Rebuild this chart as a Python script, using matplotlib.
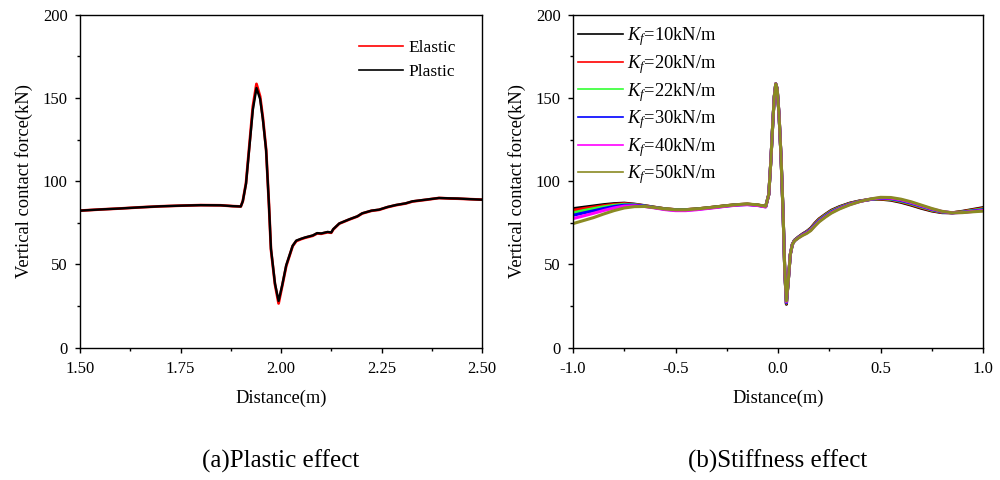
import matplotlib
matplotlib.use("Agg")
import matplotlib.pyplot as plt
from matplotlib.ticker import MultipleLocator, FormatStrFormatter

plt.rcParams['font.family'] = ['Liberation Serif', 'DejaVu Serif']
plt.rcParams['mathtext.fontset'] = 'custom'
plt.rcParams['mathtext.rm'] = 'Liberation Serif'
plt.rcParams['mathtext.it'] = 'Liberation Serif:italic'

# ---------------- (a) Plastic effect ----------------
dist_a = [1.50, 1.55, 1.60, 1.65, 1.70, 1.75, 1.80, 1.85, 1.88, 1.90,
          1.905, 1.913, 1.92, 1.93, 1.939, 1.948, 1.955, 1.963, 1.97, 1.975,
          1.985, 1.994, 2.003, 2.013, 2.029, 2.038, 2.05, 2.06, 2.079, 2.09,
          2.10, 2.116, 2.125, 2.13, 2.145, 2.17, 2.19, 2.202, 2.225, 2.244,
          2.265, 2.286, 2.31, 2.327, 2.36, 2.393, 2.42, 2.44, 2.47, 2.50]
elastic = [82.3, 83.0, 83.6, 84.3, 84.9, 85.3, 85.6, 85.5, 85.0, 84.8,
           88.0, 99.0, 118.0, 145.0, 158.5, 151.0, 138.0, 119.0, 86.0, 59.0,
           38.0, 26.5, 37.0, 49.0, 61.0, 64.0, 65.2, 66.0, 67.2, 68.6,
           68.4, 69.3, 69.0, 71.0, 74.5, 77.0, 78.8, 80.6, 82.2, 82.8,
           84.4, 85.6, 86.6, 87.8, 88.8, 89.9, 89.6, 89.5, 89.2, 88.9]
plastic = [82.3, 83.0, 83.6, 84.3, 84.9, 85.3, 85.6, 85.5, 85.0, 84.8,
           88.0, 98.5, 117.0, 143.0, 156.0, 149.5, 137.0, 118.5, 86.0, 59.5,
           38.5, 28.0, 37.5, 49.5, 61.2, 64.3, 65.4, 66.2, 67.4, 68.8,
           68.6, 69.5, 69.2, 71.2, 74.6, 77.1, 78.9, 80.7, 82.3, 82.9,
           84.5, 85.7, 86.7, 87.9, 88.9, 89.9, 89.7, 89.6, 89.2, 88.9]

# ---------------- (b) Stiffness effect ----------------
dist_b = [-1.00, -0.95, -0.90, -0.85, -0.80, -0.75, -0.70, -0.65, -0.60, -0.55,
          -0.50, -0.45, -0.40, -0.35, -0.30, -0.25, -0.20, -0.15, -0.10, -0.06,
          -0.045, -0.035, -0.025, -0.018, -0.011, -0.004, 0.005, 0.015, 0.025, 0.033,
          0.041, 0.050, 0.060, 0.070, 0.080, 0.100, 0.120, 0.140, 0.160, 0.180,
          0.200, 0.230, 0.260, 0.300, 0.350, 0.400, 0.450, 0.500, 0.550, 0.600,
          0.650, 0.700, 0.750, 0.800, 0.850, 0.900, 0.950, 1.000]
kf10 = [83.5, 84.3, 85.1, 85.9, 86.5, 86.8, 86.2, 85.3, 84.3, 83.4,
        82.9, 82.9, 83.3, 83.9, 84.6, 85.3, 85.9, 86.2, 85.7, 84.8,
        92.0, 112.0, 136.0, 151.0, 158.5, 155.5, 140.0, 114.0, 80.0, 46.0,
        26.0, 40.0, 56.0, 62.0, 64.5, 66.5, 68.3, 69.8, 71.8, 74.8,
        77.3, 80.0, 82.5, 84.7, 86.8, 88.2, 89.0, 89.2, 88.6, 87.3,
        85.6, 83.7, 82.1, 81.1, 81.0, 81.9, 83.0, 84.1]
kf20 = [82.5, 83.5, 84.4, 85.3, 86.0, 86.5, 86.0, 85.2, 84.3, 83.4,
        82.9, 82.9, 83.3, 83.9, 84.6, 85.3, 85.9, 86.2, 85.7, 84.8,
        92.0, 112.0, 136.0, 151.0, 158.5, 155.5, 140.0, 114.0, 80.0, 46.0,
        26.5, 40.0, 56.0, 62.0, 64.4, 66.4, 68.1, 69.6, 71.5, 74.5,
        77.0, 79.7, 82.2, 84.4, 86.6, 88.1, 89.0, 89.4, 88.9, 87.7,
        86.0, 84.1, 82.4, 81.3, 81.0, 81.7, 82.7, 83.7]
kf22 = [81.0, 82.3, 83.5, 84.6, 85.5, 86.1, 85.8, 85.1, 84.2, 83.3,
        82.8, 82.8, 83.2, 83.8, 84.5, 85.2, 85.8, 86.1, 85.6, 84.7,
        92.0, 112.0, 136.0, 151.0, 158.5, 155.5, 140.0, 114.0, 80.0, 46.0,
        26.8, 40.0, 56.0, 62.0, 64.3, 66.3, 67.9, 69.4, 71.2, 74.1,
        76.6, 79.4, 81.9, 84.2, 86.4, 88.0, 89.0, 89.6, 89.2, 88.0,
        86.4, 84.5, 82.7, 81.5, 81.0, 81.5, 82.4, 83.3]
kf30 = [79.5, 80.9, 82.2, 83.6, 84.8, 85.6, 85.6, 85.0, 84.1, 83.1,
        82.6, 82.6, 83.1, 83.7, 84.4, 85.1, 85.7, 86.0, 85.5, 84.6,
        92.0, 112.0, 136.0, 151.0, 158.5, 155.5, 140.0, 114.0, 80.0, 46.0,
        27.0, 40.0, 56.0, 62.0, 64.2, 66.2, 67.8, 69.2, 70.9, 73.7,
        76.2, 79.0, 81.5, 83.9, 86.2, 87.9, 89.1, 89.8, 89.5, 88.4,
        86.8, 84.9, 83.0, 81.6, 81.0, 81.3, 82.1, 82.8]
kf40 = [77.5, 79.1, 80.7, 82.4, 83.9, 85.0, 85.2, 84.8, 83.9, 82.9,
        82.3, 82.3, 82.8, 83.5, 84.2, 85.0, 85.6, 85.9, 85.4, 84.5,
        92.0, 112.0, 136.0, 151.0, 158.5, 155.5, 140.0, 114.0, 80.0, 46.0,
        27.5, 40.0, 56.0, 62.0, 64.1, 66.0, 67.6, 68.9, 70.6, 73.3,
        75.8, 78.6, 81.1, 83.6, 86.0, 87.8, 89.2, 90.0, 89.8, 88.8,
        87.2, 85.2, 83.3, 81.8, 81.0, 81.2, 81.8, 82.4]
kf50 = [74.5, 76.3, 78.1, 80.3, 82.3, 83.9, 84.7, 84.8, 84.1, 83.3,
        82.8, 82.8, 83.3, 83.9, 84.6, 85.3, 85.9, 86.3, 85.8, 84.9,
        92.0, 112.0, 136.0, 151.0, 158.5, 155.5, 140.0, 114.0, 80.0, 46.0,
        28.0, 40.0, 56.0, 62.0, 64.0, 65.9, 67.4, 68.6, 70.3, 73.0,
        75.5, 78.3, 80.8, 83.3, 85.8, 87.8, 89.3, 90.3, 90.2, 89.2,
        87.6, 85.6, 83.6, 81.9, 81.0, 81.1, 81.6, 82.0]

series_b = [kf10, kf20, kf22, kf30, kf40, kf50]
labels_b = ['$K_f$=10kN/m', '$K_f$=20kN/m', '$K_f$=22kN/m',
            '$K_f$=30kN/m', '$K_f$=40kN/m', '$K_f$=50kN/m']
colors_b = ['#000000', '#ff0000', '#33ff33', '#0000ff', '#ff00ff', '#8a8a23']

fig = plt.figure(figsize=(10, 4.8), dpi=100)
ax1 = fig.add_axes([0.080, 0.276, 0.402, 0.693])
ax2 = fig.add_axes([0.573, 0.276, 0.410, 0.693])


def style(ax):
    ax.set_ylim(0, 200)
    ax.yaxis.set_major_locator(MultipleLocator(50))
    ax.yaxis.set_minor_locator(MultipleLocator(25))
    ax.tick_params(which='both', direction='out', top=False, right=False,
                   labelsize=12, width=1)
    ax.tick_params(which='major', length=3.8)
    ax.tick_params(which='minor', length=2.2)
    ax.tick_params(axis='x', which='major', pad=6)
    ax.tick_params(axis='y', which='major', pad=5)
    for s in ax.spines.values():
        s.set_linewidth(1.0)
    ax.set_xlabel('Distance(m)', fontsize=13.3, labelpad=9)
    ax.set_ylabel('Vertical contact force(kN)', fontsize=13.3, labelpad=7)


ax1.plot(dist_a, elastic, color='#ff0000', lw=2.0, label='Elastic')
ax1.plot(dist_a, plastic, color='#000000', lw=1.7, label='Plastic')
ax1.set_xlim(1.5, 2.5)
ax1.xaxis.set_major_locator(MultipleLocator(0.25))
ax1.xaxis.set_minor_locator(MultipleLocator(0.125))
ax1.xaxis.set_major_formatter(FormatStrFormatter('%.2f'))
style(ax1)
leg1 = ax1.legend(loc='upper left', bbox_to_anchor=(0.695, 0.925), frameon=False,
                  fontsize=12.5, handlelength=2.5, handletextpad=0.3,
                  labelspacing=0.45, borderpad=0, borderaxespad=0)
for l in leg1.get_lines():
    l.set_linewidth(1.2)

for vals, lab, col in zip(series_b, labels_b, colors_b):
    ax2.plot(dist_b, vals, color=col, lw=2.2, label=lab)
ax2.set_xlim(-1.0, 1.0)
ax2.xaxis.set_major_locator(MultipleLocator(0.5))
ax2.xaxis.set_minor_locator(MultipleLocator(0.25))
ax2.xaxis.set_major_formatter(FormatStrFormatter('%.1f'))
style(ax2)
leg2 = ax2.legend(loc='upper left', bbox_to_anchor=(0.012, 0.968), frameon=False,
                  fontsize=13.3, handlelength=2.45, handletextpad=0.2,
                  labelspacing=0.255, borderpad=0, borderaxespad=0)
for l in leg2.get_lines():
    l.set_linewidth(1.2)

fig.text(0.281, 0.040, '(a)Plastic effect', ha='center', va='center', fontsize=18)
fig.text(0.778, 0.040, '(b)Stiffness effect', ha='center', va='center', fontsize=18)

fig.savefig('out.png', dpi=100)
